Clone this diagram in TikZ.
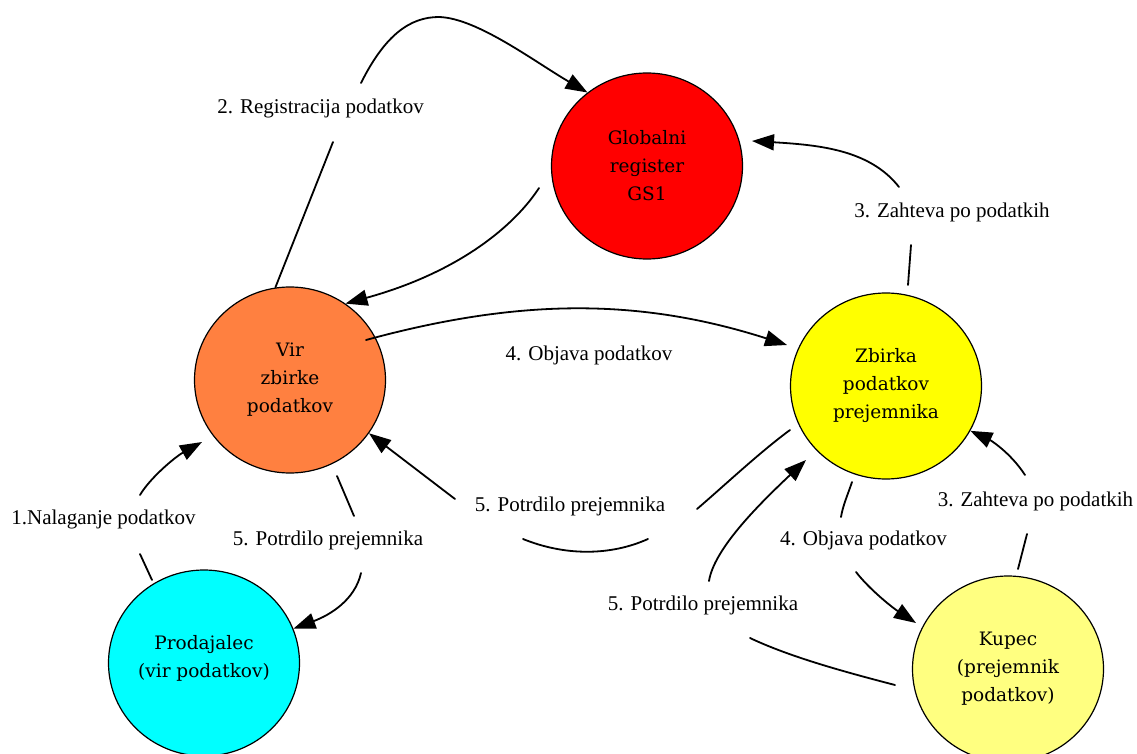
\documentclass[tikz,border=0pt]{standalone}
\usepackage{fontspec}
\setmainfont{Liberation Serif}
\newfontfamily\nodefont{DejaVu Serif}
\usetikzlibrary{arrows.meta,shapes.geometric}
\definecolor{cRed}{RGB}{255,0,0}
\definecolor{cOrange}{RGB}{255,128,64}
\definecolor{cYellow}{RGB}{255,255,0}
\definecolor{cCyan}{RGB}{0,255,255}
\definecolor{cLight}{RGB}{255,255,128}
\begin{document}
\begin{tikzpicture}[x=1pt,y=-1pt,
  state/.style={ellipse, draw=black, line width=1.2pt, minimum width=191pt, minimum height=186pt,
    inner sep=0pt, align=center, font=\nodefont\fontsize{18.5}{28}\selectfont},
  lbl/.style={font=\fontsize{21}{24}\selectfont, inner sep=0pt},
  conn/.style={line width=1.8pt, line cap=round},
  arr/.style={conn, -{Triangle[length=22pt,width=16pt]}}
]
\fill[white] (0,0) rectangle (1137,754);
\useasboundingbox (0,0) rectangle (1137,754);

% nodes
\node[state, fill=cRed] (glob) at (647,166) {Globalni\\register\\GS1};
\node[state, fill=cOrange] (vir) at (290,380) {Vir\\zbirke\\podatkov};
\node[state, fill=cYellow] (zb) at (886,386) {Zbirka\\podatkov\\prejemnika};
\node[state, fill=cCyan] (prod) at (204,663) {Prodajalec\\(vir podatkov)\\[-14pt]\mbox{}};
\node[state, fill=cLight] (kup) at (1008,669) {Kupec\\(prejemnik\\podatkov)};

% labels
\node[lbl] (l2) at (320.5,108) {2. Registracija podatkov};
\node[lbl] (l3a) at (952,212) {3. Zahteva po podatkih};
\node[lbl] (l4a) at (589,355) {4. Objava podatkov};
\node[lbl] (l5a) at (570,506) {5. Potrdilo prejemnika};
\node[lbl] (l1) at (103.5,519) {1.Nalaganje podatkov};
\node[lbl] (l5b) at (328,540) {5. Potrdilo prejemnika};
\node[lbl] (l4b) at (863.5,540) {4. Objava podatkov};
\node[lbl] (l3b) at (1035.5,501) {3. Zahteva po podatkih};
\node[lbl] (l5c) at (703,605) {5. Potrdilo prejemnika};

% free ends of the broken connectors
\coordinate (regA) at (333,142);
\coordinate (regB) at (361,83);
\coordinate (g2v) at (539,188);
\coordinate (z3a) at (908,285);
\coordinate (z3b) at (911,245);
\coordinate (z3c) at (899,187);
\coordinate (z3d) at (752,141);
\coordinate (v4) at (366,340);
\coordinate (z4) at (787,345);
\coordinate (z5a) at (790,430);
\coordinate (z5b) at (697,509);
\coordinate (z5c) at (648,539);
\coordinate (z5d) at (523,539);
\coordinate (z5e) at (455,499);
\coordinate (p6a) at (152,580);
\coordinate (p6b) at (140,554);
\coordinate (p6c) at (140,495);
\coordinate (p6d) at (202,442);
\coordinate (v7a) at (337,476);
\coordinate (v7b) at (354,516);
\coordinate (v7c) at (361,573);
\coordinate (z8a) at (852,482);
\coordinate (z8b) at (841,517);
\coordinate (z8c) at (856,572);
\coordinate (k8) at (916,623);
\coordinate (k9a) at (1018,569);
\coordinate (k9b) at (1027,534);
\coordinate (k9c) at (1025,475);
\coordinate (k10a) at (895,685);
\coordinate (k10b) at (750,638);
\coordinate (k10c) at (709,581);
\coordinate (z10) at (806,460);

% 2. Registracija podatkov
\draw[conn] (vir.99) -- (regA);
\draw[arr] (regB) .. controls (385,35) and (410,17) .. (439,17) .. controls (477,18) and (535,62) .. (glob.129);
% Globalni -> Vir
\draw[arr] (g2v) .. controls (515,225) and (460,272) .. (vir.54);
% 3. Zahteva (top)
\draw[conn] (z3a) -- (z3b);
\draw[arr] (z3c) .. controls (870,150) and (820,145) .. (z3d);
% 4. Objava (middle)
\draw[arr] (v4) .. controls (520,298) and (640,298) .. (z4);
% 5. Potrdilo (middle)
\draw[conn] (z5a) .. controls (760,452) and (725,485) .. (z5b);
\draw[conn] (z5c) .. controls (610,556) and (565,556) .. (z5d);
\draw[arr] (z5e) -- (vir.-34);
% 1. Nalaganje
\draw[conn] (p6a) -- (p6b);
\draw[arr] (p6c) .. controls (150,478) and (175,457) .. (p6d);
% 5. Potrdilo (left)
\draw[conn] (v7a) -- (v7b);
\draw[arr] (v7c) .. controls (355,600) and (330,615) .. (prod.21);
% 4. Objava (lower)
\draw[conn] (z8a) .. controls (848,494) and (843,505) .. (z8b);
\draw[arr] (z8c) .. controls (870,590) and (893,608) .. (k8);
% 3. Zahteva (lower)
\draw[conn] (k9a) -- (k9b);
\draw[arr] (k9c) .. controls (1010,452) and (990,440) .. (zb.-28);
% 5. Potrdilo (lower)
\draw[conn] (k10a) .. controls (845,672) and (790,657) .. (k10b);
\draw[arr] (k10c) .. controls (714,550) and (755,508) .. (z10);
\end{tikzpicture}
\end{document}
